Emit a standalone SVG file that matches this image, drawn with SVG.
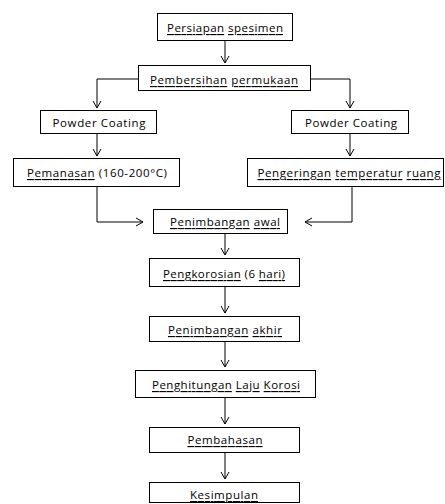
<svg xmlns="http://www.w3.org/2000/svg" width="445" height="504" viewBox="0 0 445 504">
<defs>
<style>
.box{fill:#fff;stroke:#000;stroke-width:1}
.t{font-family:"Open Sans","Liberation Sans",sans-serif;font-size:11.5px;fill:#000;text-anchor:middle;dominant-baseline:central}
.sq{text-decoration:underline wavy #9a9a9a;text-decoration-thickness:1px}
.c{fill:none;stroke:#000;stroke-width:1}
</style>
<marker id="ah" markerUnits="userSpaceOnUse" markerWidth="12" markerHeight="12" viewBox="-8 -6 10 12" refX="0" refY="0" orient="auto">
<path d="M-7,-4 L0,0 L-7,4" fill="none" stroke="#000" stroke-width="1"/>
</marker>
</defs>
<rect width="445" height="504" fill="#fff"/>
<g id="connectors">
<path class="c" d="M225,40 V63" marker-end="url(#ah)"/>
<path class="c" d="M138.5,79 H97 V108" marker-end="url(#ah)"/>
<path class="c" d="M311,79 H350 V108" marker-end="url(#ah)"/>
<path class="c" d="M97,133 V156" marker-end="url(#ah)"/>
<path class="c" d="M350,133 V156" marker-end="url(#ah)"/>
<path class="c" d="M97,186 V222 H143" marker-end="url(#ah)"/>
<path class="c" d="M352,186 V222 H305" marker-end="url(#ah)"/>
<path class="c" d="M225,233 V255" marker-end="url(#ah)"/>
<path class="c" d="M225,286 V313" marker-end="url(#ah)"/>
<path class="c" d="M225,341 V367" marker-end="url(#ah)"/>
<path class="c" d="M225,397 V424" marker-end="url(#ah)"/>
<path class="c" d="M225,452 V479" marker-end="url(#ah)"/>
</g>
<g id="persiapan">
<rect class="box" x="157.5" y="13.5" width="135" height="27"/>
<text class="t" x="225" y="27" textLength="116" lengthAdjust="spacing"><tspan class="sq">Persiapan</tspan> <tspan class="sq">spesimen</tspan></text>
</g>
<g id="pembersihan">
<rect class="box" x="138.5" y="65.5" width="172" height="25"/>
<text class="t" x="224" y="79" textLength="148" lengthAdjust="spacing"><tspan class="sq">Pembersihan</tspan> <tspan class="sq">permukaan</tspan></text>
</g>
<g id="powder-left">
<rect class="box" x="40.5" y="110.5" width="116" height="23"/>
<text class="t" x="99" y="122" textLength="93" lengthAdjust="spacing">Powder Coating</text>
</g>
<g id="powder-right">
<rect class="box" x="291.5" y="110.5" width="117" height="23"/>
<text class="t" x="351" y="122" textLength="92" lengthAdjust="spacing">Powder Coating</text>
</g>
<g id="pemanasan">
<rect class="box" x="13.5" y="158.5" width="166" height="28"/>
<text class="t" x="97" y="172" textLength="140" lengthAdjust="spacing"><tspan class="sq">Pemanasan</tspan> (160-200°C)</text>
</g>
<g id="pengeringan">
<rect class="box" x="247.5" y="158.5" width="196" height="28"/>
<text class="t" x="349" y="172" textLength="183" lengthAdjust="spacing"><tspan class="sq">Pengeringan</tspan> <tspan class="sq">temperatur</tspan> <tspan class="sq">ruang</tspan></text>
</g>
<g id="penimbangan-awal">
<rect class="box" x="153.5" y="209.5" width="134" height="24"/>
<text class="t" x="225" y="221" textLength="110" lengthAdjust="spacing"><tspan class="sq">Penimbangan</tspan> <tspan class="sq">awal</tspan></text>
</g>
<g id="pengkorosian">
<rect class="box" x="149.5" y="258.5" width="150" height="28"/>
<text class="t" x="224" y="273" textLength="122" lengthAdjust="spacing"><tspan class="sq">Pengkorosian</tspan> (6 <tspan class="sq">hari)</tspan></text>
</g>
<g id="penimbangan-akhir">
<rect class="box" x="149.5" y="316.5" width="150" height="25"/>
<text class="t" x="225" y="329" textLength="114" lengthAdjust="spacing"><tspan class="sq">Penimbangan</tspan> <tspan class="sq">akhir</tspan></text>
</g>
<g id="penghitungan">
<rect class="box" x="135.5" y="370.5" width="180" height="27"/>
<text class="t" x="226" y="384" textLength="148" lengthAdjust="spacing"><tspan class="sq">Penghitungan</tspan> <tspan class="sq">Laju</tspan> <tspan class="sq">Korosi</tspan></text>
</g>
<g id="pembahasan">
<rect class="box" x="149.5" y="427.5" width="150" height="25"/>
<text class="t" x="225" y="439" textLength="75" lengthAdjust="spacing"><tspan class="sq">Pembahasan</tspan></text>
</g>
<g id="kesimpulan">
<rect class="box" x="149.5" y="482.5" width="150" height="20"/>
<text class="t" x="224" y="494" textLength="68" lengthAdjust="spacing"><tspan class="sq">Kesimpulan</tspan></text>
</g>
</svg>
